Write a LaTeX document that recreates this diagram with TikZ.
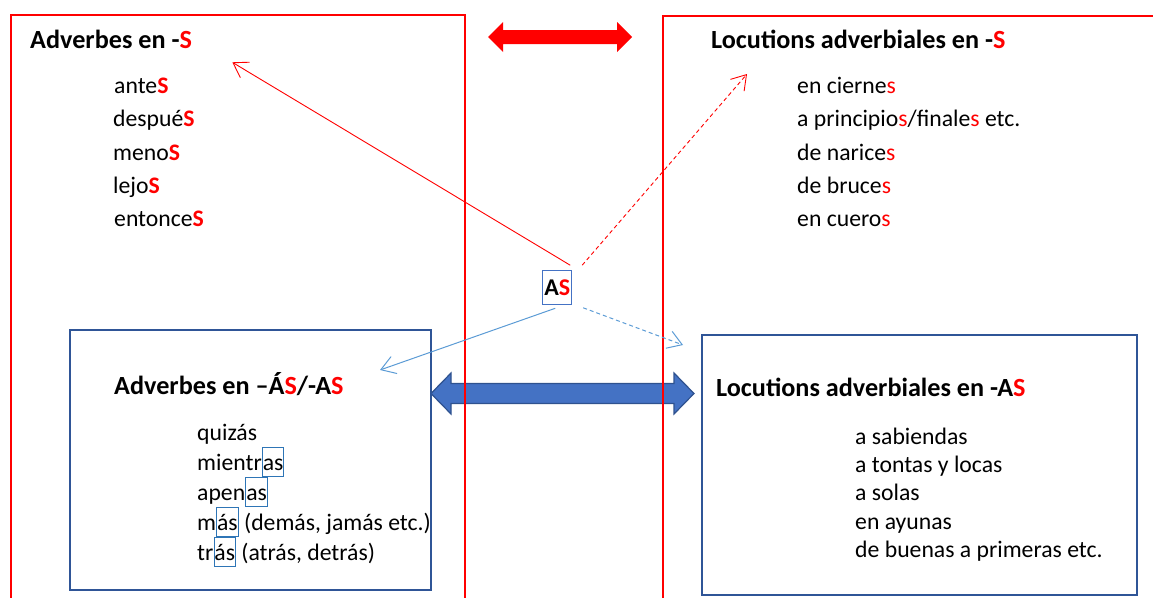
\documentclass[tikz,border=0pt]{standalone}
\usepackage{fontspec}
\setmainfont{Carlito}
\usetikzlibrary{arrows.meta,calc}
\definecolor{rred}{HTML}{FF0000}
\definecolor{bbox}{HTML}{2F5597}
\definecolor{bline}{HTML}{5B9BD5}
\definecolor{bmark}{HTML}{2E75B6}
\definecolor{bfill}{HTML}{4472C4}
\definecolor{bedge}{HTML}{2F528F}
\newcommand\rs[1]{\textcolor{rred}{#1}}
\newcommand\rbs[1]{\textcolor{rred}{\bfseries #1}}
\begin{document}
\begin{tikzpicture}[x=1pt,y=-1pt,
  title/.style={anchor=base west, inner sep=0pt, font=\fontsize{26.2}{30}\selectfont\bfseries},
  item/.style={anchor=base west, inner sep=0pt, font=\fontsize{23.7}{28}\selectfont},
  marked/.style={item, draw=bmark, line width=1pt, text height=22.3pt, text depth=6.3pt, inner xsep=0.3pt},
  redbox/.style={draw=rred, line width=2.5pt},
  bluebox/.style={draw=bbox, line width=2.5pt},
  tip/.style={-{Straight Barb[length=14pt,width=18pt]}},
  redlink/.style={tip, draw=rred, line width=0.9pt},
  bluelink/.style={tip, draw=bline, line width=1pt},
  dashedlink/.style={dash pattern=on 4pt off 3pt}
]
\path[use as bounding box] (0,0) rectangle (1153,597);
\clip (0,0) rectangle (1153,597);

% blue double arrow (below the red lines)
\fill[bfill, draw=bedge, line width=1.2pt]
  (431,393.5) -- (451,373) -- (451,383.5) -- (674,383.5) -- (674,373) -- (694,393.5)
  -- (674,414) -- (674,403.5) -- (451,403.5) -- (451,414) -- cycle;

% red frames
\draw[redbox] (11,605) -- (11,15) -- (465,15) -- (465,605);
\draw[redbox] (663,605) -- (663,16) -- (1160,16);

% red double arrow
\fill[rred] (488,37) -- (503,22) -- (503,30) -- (617,30) -- (617,22) -- (632,37)
  -- (617,52) -- (617,44) -- (503,44) -- (503,52) -- cycle;

% blue frames
\draw[bluebox] (70,330) rectangle (431,590);
\draw[bluebox] (702,335) rectangle (1137,595);

% top-left
\node[title] (tl) at (30,48.3) {Adverbes en -\rs{S}};
\node[item] (tl1) at (114,93.3) {ante\rbs{S}};
\node[item] (tl2) at (113,126.7) {despué\rbs{S}};
\node[item] (tl3) at (113,160) {meno\rbs{S}};
\node[item] (tl4) at (113,193.3) {lejo\rbs{S}};
\node[item] (tl5) at (114,226.5) {entonce\rbs{S}};

% top-right
\node[title] (tr) at (711,48.3) {Locutions adverbiales en -\rs{S}};
\node[item] (tr1) at (797,93.3) {en cierne\rs{s}};
\node[item] (tr2) at (797,126.7) {a principio\rs{s}/finale\rs{s} etc.};
\node[item] (tr3) at (797,160) {de narice\rs{s}};
\node[item] (tr4) at (797,193.3) {de bruce\rs{s}};
\node[item] (tr5) at (797,226.5) {en cuero\rs{s}};

% bottom-left
\node[title] (bl) at (114,394.3) {Adverbes en –Á\rs{S}/-A\rs{S}};
\node[item] (bl1) at (197,440.7) {quizás};
\node[item] (bl2a) at (197,470) {mientr};
\node[marked] (bl2b) at (bl2a.base east) {as};
\node[item] (bl3a) at (197,500) {apen};
\node[marked] (bl3b) at (bl3a.base east) {as};
\node[item] (bl4a) at (197,530) {m};
\node[marked] (bl4b) at (bl4a.base east) {ás};
\node[item] (bl4c) at (bl4b.base east) {~(demás, jamás etc.)};
\node[item] (bl5a) at (197,560) {tr};
\node[marked] (bl5b) at (bl5a.base east) {ás};
\node[item] (bl5c) at (bl5b.base east) {~(atrás, detrás)};

% bottom-right
\node[title] (br) at (716,396) {Locutions adverbiales en -A\rs{S}};
\node[item] (br1) at (855,444) {a sabiendas};
\node[item] (br2) at (855,472.3) {a tontas y locas};
\node[item] (br3) at (855,500.7) {a solas};
\node[item] (br4) at (855,529.2) {en ayunas};
\node[item] (br5) at (855,557.5) {de buenas a primeras etc.};

% central AS
\node[draw=bfill, line width=1pt, minimum width=29pt, minimum height=33.6pt, inner sep=0pt,
  font=\fontsize{24}{28}\selectfont\bfseries] (AS) at (557.2,287.5) {\raisebox{-2pt}{A\rs{S}}};

% connectors
\coordinate (s1) at ($(AS.north east)+(-2,-5)$);
\coordinate (s2) at ($(AS.north east)+(10,-5)$);
\coordinate (s3) at ($(AS.south)+(-2,3.5)$);
\coordinate (s4) at ($(AS.south east)+(11,3)$);
\coordinate (t1) at (232.3,62.3);
\coordinate (t2) at (747,74);
\coordinate (t3) at (380,370);
\coordinate (t4) at (683,345);
\draw[redlink] (s1) -- (t1);
\draw[redlink, dashedlink] (s2) -- (t2);
\draw[bluelink] (s3) -- (t3);
\draw[bluelink, dashedlink] (s4) -- (t4);
\end{tikzpicture}
\end{document}
